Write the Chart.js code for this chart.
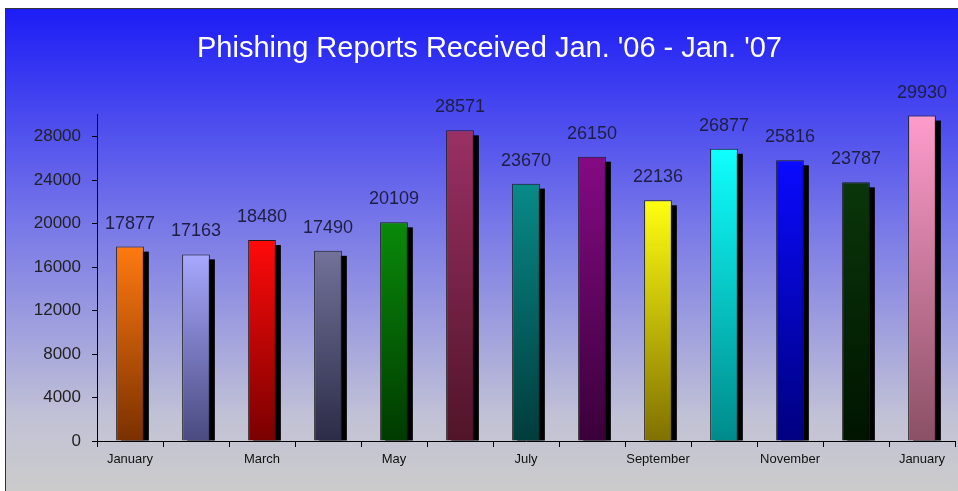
<!DOCTYPE html>
<html>
<head>
<meta charset="utf-8">
<script src="https://cdn.jsdelivr.net/npm/chart.js@4"></script>
<style>
  html, body { margin: 0; padding: 0; background: #fff; }
  #wrap { width: 958px; height: 491px; }
</style>
</head>
<body>
<div id="wrap"><canvas id="myChart" width="958" height="491"></canvas></div>
<script>
const months = ["January","February","March","April","May","June","July","August","September","October","November","December","January"];
const tickLabels = ["January","","March","","May","","July","","September","","November","","January"];
const yTicks = [0,4000,8000,12000,16000,20000,24000,28000];
const reports = [17877,17163,18480,17490,20109,28571,23670,26150,22136,26877,25816,23787,29930];
const topColors = ["#ff7a10","#a8a8ff","#ff0a0a","#72729a","#0a8a0a","#9a3064","#088a88","#840a84","#ffff10","#10ffff","#0a0aff","#0a360a","#ff9ccc"];
const bottomColors = ["#7a3000","#4a4a80","#7a0000","#2c2c48","#003a00","#501428","#003c3c","#3a003a","#807000","#008a8a","#000080","#001400","#8a5064"];

// background frame + gradient
const backdrop = {
  id: 'backdrop',
  beforeDraw(chart) {
    const c = chart.ctx;
    c.save();
    c.fillStyle = '#fff';
    c.fillRect(0, 0, chart.width, chart.height);
    const g = c.createLinearGradient(0, 8, 0, chart.height);
    g.addColorStop(0, '#1c1cf6');
    g.addColorStop(0.45, '#7878e8');
    g.addColorStop(0.85, '#c2c2d6');
    g.addColorStop(1, '#cbcbcb');
    c.fillStyle = g;
    c.fillRect(5, 8, chart.width - 5, chart.height - 8);
    c.strokeStyle = '#333';
    c.lineWidth = 1;
    c.beginPath();
    c.moveTo(5.5, chart.height);
    c.lineTo(5.5, 8.5);
    c.lineTo(chart.width, 8.5);
    c.stroke();
    c.restore();
  }
};

// black drop shadow behind each bar
const shadows = {
  id: 'shadows',
  beforeDatasetsDraw(chart) {
    const c = chart.ctx;
    c.save();
    c.fillStyle = '#000';
    chart.getDatasetMeta(0).data.forEach(bar => {
      c.fillRect(bar.x - bar.width / 2 + 5, bar.y + 5, bar.width, bar.base - bar.y - 5);
    });
    c.restore();
  }
};

// value labels above the bars
const valueLabels = {
  id: 'valueLabels',
  afterDatasetsDraw(chart) {
    const c = chart.ctx;
    c.save();
    c.fillStyle = '#1e1e44';
    c.font = '18px "Liberation Sans", Arial, sans-serif';
    c.textAlign = 'center';
    c.textBaseline = 'alphabetic';
    chart.getDatasetMeta(0).data.forEach((bar, i) => {
      c.fillText(reports[i], bar.x, bar.y - 18);
    });
    c.restore();
  }
};

const ctx = document.getElementById('myChart').getContext('2d');
const myChart = new Chart(ctx, {
  type: 'bar',
  data: {
    labels: months,
    datasets: [{
      label: 'Phishing Reports',
      data: reports,
      backgroundColor: (context) => {
        const chart = context.chart;
        const i = context.dataIndex;
        if (!chart.chartArea || context.type !== 'data') return topColors[i];
        const yScale = chart.scales.y;
        const top = yScale.getPixelForValue(reports[i]);
        const bottom = yScale.getPixelForValue(0);
        const g = chart.ctx.createLinearGradient(0, top, 0, bottom);
        g.addColorStop(0, topColors[i]);
        g.addColorStop(1, bottomColors[i]);
        return g;
      },
      borderColor: '#1a1a1a',
      borderWidth: 1,
      barPercentage: 0.6,
      categoryPercentage: 0.7
    }]
  },
  options: {
    responsive: false,
    animation: false,
    layout: { padding: { left: 24, right: 3, top: 0, bottom: 0 } },
    plugins: {
      legend: { display: false },
      tooltip: { enabled: false },
      title: {
        display: true,
        text: "Phishing Reports Received Jan. '06 - Jan. '07",
        color: '#ffffff',
        font: { family: '"Liberation Sans", Arial, sans-serif', size: 29, weight: 'normal' },
        padding: { top: 32, bottom: 48 }
      }
    },
    scales: {
      x: {
        grid: { drawOnChartArea: false, drawTicks: true, tickLength: 6, color: '#000', offset: true },
        border: { color: '#000', width: 1 },
        ticks: {
          color: '#111',
          font: { family: '"Liberation Sans", Arial, sans-serif', size: 13 },
          padding: 5,
          autoSkip: false,
          maxRotation: 0,
          callback: (v, i) => tickLabels[i]
        },
        afterFit: (scale) => { scale.height = 50; }
      },
      y: {
        min: 0,
        max: 30000,
        grid: { drawOnChartArea: false, drawTicks: true, tickLength: 5, color: '#000' },
        border: { color: '#000', width: 1 },
        ticks: {
          color: '#222',
          padding: 11,
          font: { family: '"Liberation Sans", Arial, sans-serif', size: 17 },
          callback: (v) => String(v)
        },
        afterBuildTicks: (scale) => { scale.ticks = yTicks.map(v => ({ value: v })); },
        afterFit: (scale) => { scale.width = 73; }
      }
    }
  },
  plugins: [backdrop, shadows, valueLabels]
});
</script>
</body>
</html>
